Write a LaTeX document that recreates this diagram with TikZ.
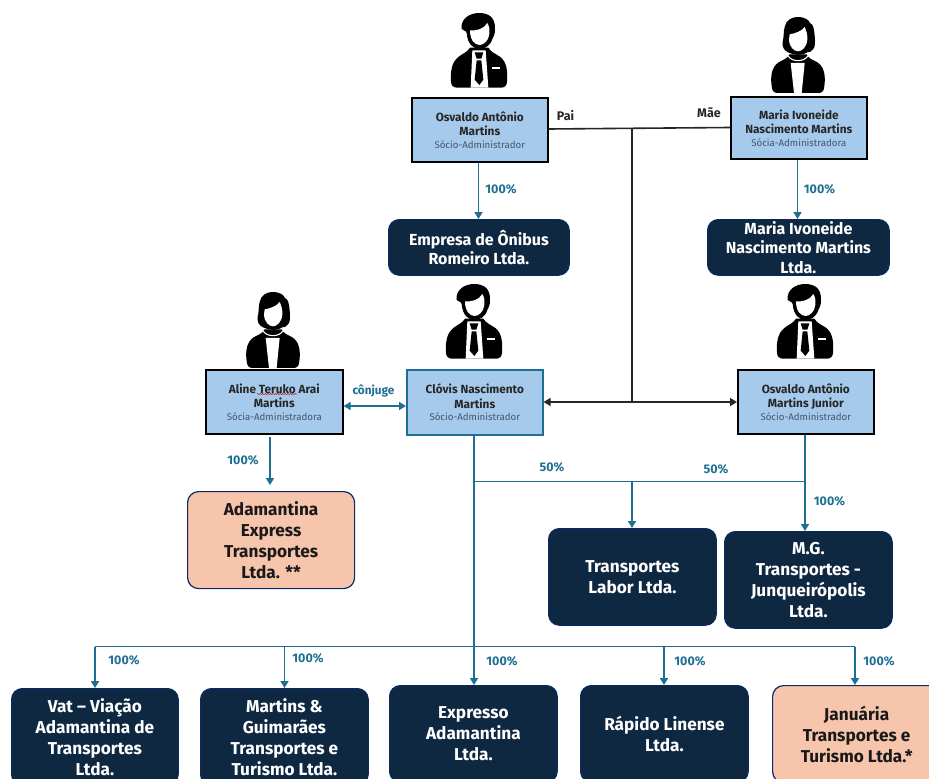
\documentclass[tikz,border=0pt]{standalone}
\usepackage{fontspec}
\setmainfont{Fira Sans}
\usetikzlibrary{arrows.meta,decorations.pathmorphing}
\definecolor{navy}{HTML}{0F2841}
\definecolor{navyedge}{HTML}{0A2A66}
\definecolor{bluefill}{HTML}{A6CAEC}
\definecolor{ownteal}{HTML}{1F6F93}
\definecolor{peach}{HTML}{F6C5AC}
\definecolor{subgrey}{HTML}{44546A}
\tikzset{
 x=1pt,y=-1pt,
 person/.style={align=center,font=\fontsize{11.8}{14.5}\selectfont\bfseries,text=black!85,draw=black,line width=1.6pt,fill=bluefill,inner sep=0pt,anchor=north west},
 tealperson/.style={person,draw=ownteal},
 company/.style={align=center,font=\fontsize{17.2}{21}\selectfont\bfseries,text=white,fill=navy,draw=navyedge,line width=.8pt,rounded corners=11pt,inner sep=0pt,anchor=north west},
 smallco/.style={company,font=\fontsize{16}{19.5}\selectfont\bfseries},
 peachco/.style={company,fill=peach,text=black!90,draw=navyedge,line width=1.2pt},
 link/.style={draw=ownteal,line width=1.6pt},
 linkarrow/.style={link,-{Triangle[length=7pt,width=8pt]}},
 linkboth/.style={link,{Triangle[length=7pt,width=8pt]}-{Triangle[length=7pt,width=8pt]}},
 family/.style={draw=black!85,line width=1.6pt},
 familyboth/.style={family,{Triangle[length=7pt,width=8pt]}-{Triangle[length=7pt,width=8pt]}},
 pct/.style={text=ownteal,font=\fontsize{12.5}{13}\selectfont\bfseries,inner sep=0pt},
 spouse/.style={pct,font=\fontsize{11.8}{13}\selectfont\bfseries},
 famlabel/.style={text=black!85,font=\fontsize{12.5}{13}\selectfont\bfseries,inner sep=0pt},
}
\newcommand\subrole[1]{{\fontsize{9.7}{12}\selectfont\mdseries\color{subgrey}#1}}
\newcommand\pbox[6]{\node[#1,minimum width=#4pt,minimum height=#5pt] (#2) at #3 {#6};}
\newcommand\maleicon[2]{\begin{scope}[shift={(#1,#2)},x=.3333pt,y=-.3333pt]
 \fill (-84,206) .. controls (-86,175) and (-82,148) .. (-62,132) .. controls (-50,122) and (-35,118) .. (-27,104) -- (28,104) .. controls (36,118) and (50,122) .. (64,132) .. controls (84,148) and (86,175) .. (84,206) .. controls (84,218) and (76,224) .. (66,224) -- (-66,224) .. controls (-76,224) and (-84,218) .. (-84,206) -- cycle;
 \fill[white] (-20,112) -- (20,112) -- (28,224) -- (-25,224) -- cycle;
 \fill (-13,118) -- (13,118) -- (7,137) -- (-7,137) -- cycle;
 \fill (-7,142) -- (7,142) -- (13,200) -- (1,216) -- (-13,200) -- cycle;
 \fill[white] (38,163) rectangle (63,169);
 \fill (-52,48) .. controls (-56,15) and (-25,0) .. (0,0) .. controls (28,0) and (50,12) .. (48,50) .. controls (48,62) and (44,72) .. (40,78) .. controls (34,100) and (14,108) .. (2,108) .. controls (-16,108) and (-34,95) .. (-37,60) -- (-40,55) -- cycle;
 \fill[white] (-27,52) .. controls (-8,54) and (15,48) .. (25,30) .. controls (32,40) and (32,55) .. (31,62) .. controls (30,82) and (14,96) .. (2,96) .. controls (-14,96) and (-27,80) .. (-27,52) -- cycle;
\end{scope}}
\newcommand\femaleicon[2]{\begin{scope}[shift={(#1,#2)},x=.3333pt,y=-.3333pt]
 \fill (-78,214) .. controls (-84,180) and (-80,150) .. (-58,136) .. controls (-45,128) and (-32,126) .. (-26,112) -- (26,112) .. controls (32,126) and (45,128) .. (58,136) .. controls (80,150) and (84,180) .. (78,214) .. controls (76,224) and (70,228) .. (60,228) -- (-60,228) .. controls (-70,228) and (-76,224) .. (-78,214) -- cycle;
 \fill[white] (-22,138) -- (20,138) -- (11,228) -- (-12,228) -- cycle;
 \draw[white,line width=1.1pt] (-30,116) .. controls (-20,136) and (20,136) .. (30,116);
 \fill (-2,0) .. controls (20,0) and (32,8) .. (36,18) .. controls (46,22) and (48,35) .. (50,55) .. controls (52,75) and (52,92) .. (44,98) .. controls (40,104) and (34,106) .. (28,106) .. controls (15,116) and (-12,116) .. (-30,106) .. controls (-42,100) and (-48,90) .. (-46,75) .. controls (-42,60) and (-44,45) .. (-40,30) .. controls (-36,10) and (-20,0) .. (-2,0) -- cycle;
 \fill[white] (-25,52) .. controls (-10,50) and (12,42) .. (20,30) .. controls (25,40) and (29,55) .. (28,68) .. controls (26,90) and (12,103) .. (0,103) .. controls (-12,103) and (-26,90) .. (-27,68) -- cycle;
\end{scope}}
\begin{document}
\begin{tikzpicture}
\useasboundingbox (0,0) rectangle (929,779);
\fill[white] (0,0) rectangle (929,779);
\begin{scope}
\clip (0,0) rectangle (929,779);
\maleicon{479}{13}
\femaleicon{798}{17}
\femaleicon{273}{292}
\maleicon{474}{284}
\maleicon{805}{284}
\pbox{person}{osvaldo}{(411,97)}{136}{64}{Osvaldo Antônio\\Martins\\[-2pt]\subrole{Sócio-Administrador}}
\pbox{person}{maria}{(730,96)}{136}{62}{Maria Ivoneide\\Nascimento Martins\\[-2pt]\subrole{Sócia-Administradora}}
\pbox{person}{aline}{(205,369)}{137}{64}{Aline Teruko Arai\\Martins\\[-2pt]\subrole{Sócia-Administradora}}
\pbox{tealperson}{clovis}{(406,369)}{136}{65}{Clóvis Nascimento\\Martins\\[-2pt]\subrole{Sócio-Administrador}}
\pbox{person}{junior}{(737,369)}{136}{64}{Osvaldo Antônio\\Martins Junior\\[-2pt]\subrole{Sócio-Administrador}}
\pbox{smallco}{romeiro}{(388,219)}{181}{56}{Empresa de Ônibus\\Romeiro Ltda.}
\pbox{smallco}{marialtda}{(707,219)}{182}{56}{Maria Ivoneide\\Nascimento Martins\\Ltda.}
\pbox{peachco}{express}{(187,491)}{167}{97}{Adamantina\\Express\\Transportes\\Ltda. **}
\pbox{company}{labor}{(548,528)}{168}{97}{Transportes\\Labor Ltda.}
\pbox{company}{mg}{(724,531)}{168}{97}{M.G.\\Transportes -\\Junqueirópolis\\Ltda.}
\pbox{company}{vat}{(11,688)}{167}{97}{Vat – Viação\\Adamantina de\\Transportes\\Ltda.}
\pbox{company}{guimaraes}{(200,688)}{168}{97}{Martins \&\\Guimarães\\Transportes e\\Turismo Ltda.}
\pbox{company}{expresso}{(389,685)}{168}{97}{Expresso\\Adamantina\\Ltda.}
\pbox{company}{rapido}{(580,685)}{168}{97}{Rápido Linense\\Ltda.}
\pbox{peachco}{januaria}{(772,685)}{168}{97}{Januária\\Transportes e\\Turismo Ltda.*}
\draw[red!80!black,line width=.5pt,decorate,decoration={snake,amplitude=.5pt,segment length=2.5pt}] (257,394) -- (297,394);
\coordinate (famtop) at (632,128);
\coordinate (famjoin) at (632,402);
\draw[family] (osvaldo.east |- 0,129) -- (maria.west |- 0,127.5);
\draw[family] (famtop) -- (famjoin);
\draw[familyboth] (clovis.east |- famjoin) -- (junior.west |- famjoin);
\draw[linkarrow] (osvaldo.south -| 478.5,0) -- (romeiro.north -| 478.5,0);
\draw[linkarrow] (maria.south -| 797.5,0) -- (marialtda.north -| 797.5,0);
\coordinate (alinefoot) at (270,437);
\draw[linkarrow] (alinefoot) -- (270,485);
\draw[linkboth] (aline.east |- 0,406) -- (clovis.west |- 0,406);
\coordinate (midjoin) at (474,481.5);
\coordinate (busjoin) at (474,646.5);
\draw[link] (clovis.south -| midjoin) -- (busjoin);
\draw[link] (midjoin) -- (805,481.5);
\draw[linkarrow] (632,481.5) -- (labor.north -| 632,0);
\draw[linkarrow] (junior.south -| 805,0) -- (mg.north -| 805,0);
\draw[link] (95,646.5) -- (855,646.5);
\draw[linkarrow] (95,646.5) -- (vat.north -| 95,0);
\draw[linkarrow] (284.5,646.5) -- (guimaraes.north -| 284.5,0);
\draw[linkarrow] (busjoin) -- (expresso.north -| 474,0);
\draw[linkarrow] (664,646.5) -- (rapido.north -| 664,0);
\draw[linkarrow] (855,646.5) -- (januaria.north -| 855,0);
\node[famlabel] (lpai) at (565.5,115.5) {Pai};
\node[famlabel] (lmae) at (709,112.5) {Mãe};
\node[pct] (p1) at (501,189.5) {100\%};
\node[pct] (p2) at (819.5,189.5) {100\%};
\node[pct] (p3) at (243,460) {100\%};
\node[spouse] (p4) at (373.5,390.5) {cônjuge};
\node[pct] (p5) at (552,467) {50\%};
\node[pct] (p6) at (716,469) {50\%};
\node[pct] (p7) at (829.5,501.5) {100\%};
\node[pct] (p8) at (124,660.5) {100\%};
\node[pct] (p9) at (308,658) {100\%};
\node[pct] (p10) at (502,661) {100\%};
\node[pct] (p11) at (690,661) {100\%};
\node[pct] (p12) at (879,661) {100\%};
\end{scope}
\end{tikzpicture}
\end{document}
